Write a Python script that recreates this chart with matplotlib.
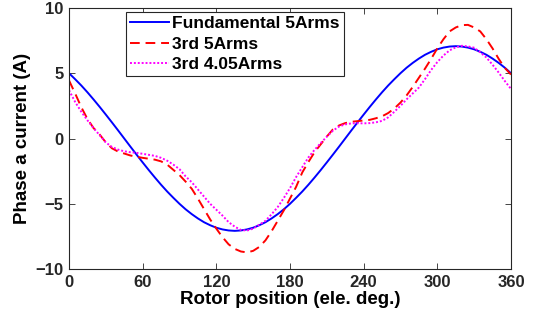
import matplotlib.pyplot as plt
import numpy as np

plt.rcParams['font.family'] = 'Liberation Sans'
plt.rcParams['font.weight'] = 'bold'

# Data, every 5 electrical degrees
theta = list(range(0, 361, 5))

fundamental = [5.00, 4.54, 4.06, 3.54, 2.99, 2.42, 1.83, 1.23, 0.62, 0.00,
               -0.62, -1.23, -1.83, -2.42, -2.99, -3.54, -4.06, -4.54, -5.00, -5.42,
               -5.79, -6.12, -6.41, -6.64, -6.83, -6.96, -7.04, -7.07, -7.04, -6.96,
               -6.83, -6.64, -6.41, -6.12, -5.79, -5.42, -5.00, -4.54, -4.06, -3.54,
               -2.99, -2.42, -1.83, -1.23, -0.62, 0.00, 0.62, 1.23, 1.83, 2.42,
               2.99, 3.54, 4.06, 4.54, 5.00, 5.42, 5.79, 6.12, 6.41, 6.64,
               6.83, 6.96, 7.04, 7.07, 7.04, 6.96, 6.83, 6.64, 6.41, 6.12,
               5.79, 5.42, 5.00]

third_5 = [4.45, 3.45, 2.4, 1.5, 0.8, 0.3, -0.3, -0.75, -1.0, -1.15,
           -1.3, -1.4, -1.48, -1.55, -1.62, -1.75, -2.0, -2.4, -2.8, -3.3,
           -3.85, -4.6, -5.4, -6.2, -6.9, -7.55, -8.1, -8.45, -8.65, -8.72,
           -8.6, -8.3, -7.8, -7.1, -6.3, -5.5, -4.6, -3.7, -2.6, -1.8,
           -1.05, -0.45, 0.15, 0.7, 1.0, 1.18, 1.28, 1.33, 1.38, 1.43,
           1.55, 1.7, 1.95, 2.3, 2.75, 3.3, 3.95, 4.65, 5.35, 6.1,
           6.9, 7.6, 8.2, 8.5, 8.68, 8.7, 8.5, 8.2, 7.6, 6.9,
           6.1, 5.4, 4.9]

third_405 = [3.7, 2.8, 2.05, 1.4, 0.8, 0.25, -0.3, -0.65, -0.85, -0.98,
             -1.05, -1.1, -1.17, -1.25, -1.33, -1.48, -1.7, -2.0, -2.35, -2.9,
             -3.35, -3.9, -4.45, -5.0, -5.45, -5.9, -6.4, -6.75, -7.0, -7.05,
             -6.9, -6.6, -6.3, -5.8, -5.25, -4.55, -3.8, -2.95, -2.2, -1.45,
             -0.87, -0.35, 0.14, 0.6, 0.92, 1.08, 1.16, 1.17, 1.16, 1.18,
             1.24, 1.35, 1.62, 2.05, 2.5, 3.0, 3.45, 3.9, 4.55, 5.25,
             5.85, 6.35, 6.75, 6.98, 7.1, 7.05, 6.95, 6.6, 6.2, 5.65,
             5.05, 4.4, 3.8]

fig = plt.figure(figsize=(5.37, 3.29), dpi=100)
ax = fig.add_axes([0.1285, 0.182, 0.823, 0.794])

ax.plot(theta, fundamental, color=(0, 0, 1), lw=1.4, label='Fundamental 5Arms')
ax.plot(theta, third_5, color=(1, 0, 0), lw=1.4, ls=(0, (5, 3)), label='3rd 5Arms')
ax.plot(theta, third_405, color=(1, 0, 1), lw=1.4, ls=(0, (1, 1)), label='3rd 4.05Arms')

ax.set_xlim(0, 360)
ax.set_ylim(-10, 10)
ax.set_xticks(np.arange(0, 361, 60))
ax.set_yticks([-10, -5, 0, 5, 10])
ax.tick_params(direction='in', top=True, right=True, labelsize=12, length=4,
               width=0.6, colors='#262626', pad=4)
for s in ax.spines.values():
    s.set_linewidth(0.8)
    s.set_color('#262626')
for lbl in ax.get_xticklabels() + ax.get_yticklabels():
    lbl.set_fontweight('bold')

ax.set_xlabel('Rotor position (ele. deg.)', fontsize=13.5, fontweight='bold', labelpad=1)
ax.set_ylabel('Phase a current (A)', fontsize=13.5, fontweight='bold', labelpad=3)

leg = ax.legend(loc='upper left', bbox_to_anchor=(0.129, 0.985),
                prop={'weight': 'bold', 'size': 12.5}, fancybox=False,
                edgecolor='#262626', framealpha=1, borderpad=0.25,
                handlelength=2.2, handletextpad=0.2, labelspacing=0.3,
                borderaxespad=0)
leg.get_frame().set_linewidth(0.8)

fig.savefig('out.png', dpi=100)
